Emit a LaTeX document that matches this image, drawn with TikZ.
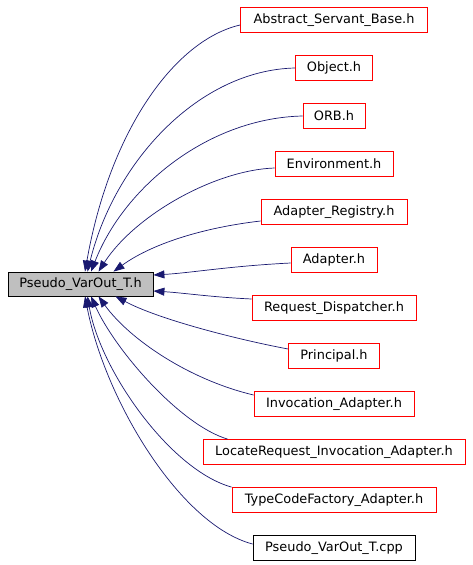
\documentclass[tikz,border=0pt]{standalone}
\usepackage{fontspec}
\setmainfont{DejaVu Sans}
\usetikzlibrary{arrows.meta}
\definecolor{edgeblue}{HTML}{191970}
\definecolor{maingray}{HTML}{BFBFBF}
\tikzset{
  filebox/.style={draw=red, line width=0.8pt, inner sep=0pt, minimum height=25pt, font=\fontsize{12.9}{14}\selectfont},
  srcbox/.style={filebox, draw=black},
  mainbox/.style={draw=black, fill=maingray, line width=0.8pt, inner sep=0pt, minimum width=145pt, minimum height=24pt, font=\fontsize{12.9}{14}\selectfont},
  dep/.style={draw=edgeblue, line width=0.7pt, -{Triangle[length=11pt,width=8pt]}, fill=none}
}
\begin{document}
\begin{tikzpicture}[x=1pt,y=-1pt]
\useasboundingbox (0,0) rectangle (472,565);
\node[mainbox] (m) at (80.5,284) {Pseudo\_VarOut\_T.h};
\node[filebox, minimum width=187pt] (n1) at (334,20) {Abstract\_Servant\_Base.h};
\node[filebox, minimum width=77pt] (n2) at (334,68) {Object.h};
\node[filebox, minimum width=62pt] (n3) at (334,116) {ORB.h};
\node[filebox, minimum width=118pt] (n4) at (334,164) {Environment.h};
\node[filebox, minimum width=146pt] (n5) at (334,212) {Adapter\_Registry.h};
\node[filebox, minimum width=86pt] (n6) at (334,260) {Adapter.h};
\node[filebox, minimum width=164pt] (n7) at (334,308) {Request\_Dispatcher.h};
\node[filebox, minimum width=91pt] (n8) at (334,356) {Principal.h};
\node[filebox, minimum width=160pt] (n9) at (334,404) {Invocation\_Adapter.h};
\node[filebox, minimum width=262pt] (n10) at (334,452) {LocateRequest\_Invocation\_Adapter.h};
\node[filebox, minimum width=204pt] (n11) at (334,500) {TypeCodeFactory\_Adapter.h};
\node[srcbox, minimum width=162pt] (n12) at (334,548) {Pseudo\_VarOut\_T.cpp};

\draw[dep] ([yshift=-5pt]n1.west) .. controls (175,40) and (110,130) .. ([xshift=4.5pt]m.north);
\draw[dep] (n2.west) .. controls (200,70) and (115,160) .. ([xshift=7pt]m.north);
\draw[dep] (n3.west) .. controls (210,118) and (125,185) .. ([xshift=10.5pt]m.north);
\draw[dep] ([yshift=-4pt]n4.west) .. controls (215,170) and (135,215) .. ([xshift=18pt]m.north);
\draw[dep] ([yshift=-9pt]n5.west) .. controls (200,228) and (150,245) .. ([xshift=33pt]m.north);
\draw[dep] ([yshift=-3pt]n6.west) .. controls (230,266) and (190,273) .. ([yshift=9pt]m.east);
\draw[dep] ([yshift=9pt]n7.west) .. controls (210,297) and (185,293) .. ([yshift=-7pt]m.east);
\draw[dep] ([yshift=7pt]n8.west) .. controls (240,340) and (160,320) .. ([xshift=35pt]m.south);
\draw[dep] ([yshift=9pt]n9.west) .. controls (190,380) and (130,340) .. ([xshift=18pt]m.south);
\draw[dep] ([xshift=25pt]n10.north west) .. controls (180,425) and (115,350) .. ([xshift=10.5pt]m.south);
\draw[dep] (n11.north west) .. controls (170,470) and (100,370) .. ([xshift=7pt]m.south);
\draw[dep] ([yshift=4pt]n12.west) .. controls (180,525) and (105,400) .. ([xshift=4.5pt]m.south);
\end{tikzpicture}
\end{document}
